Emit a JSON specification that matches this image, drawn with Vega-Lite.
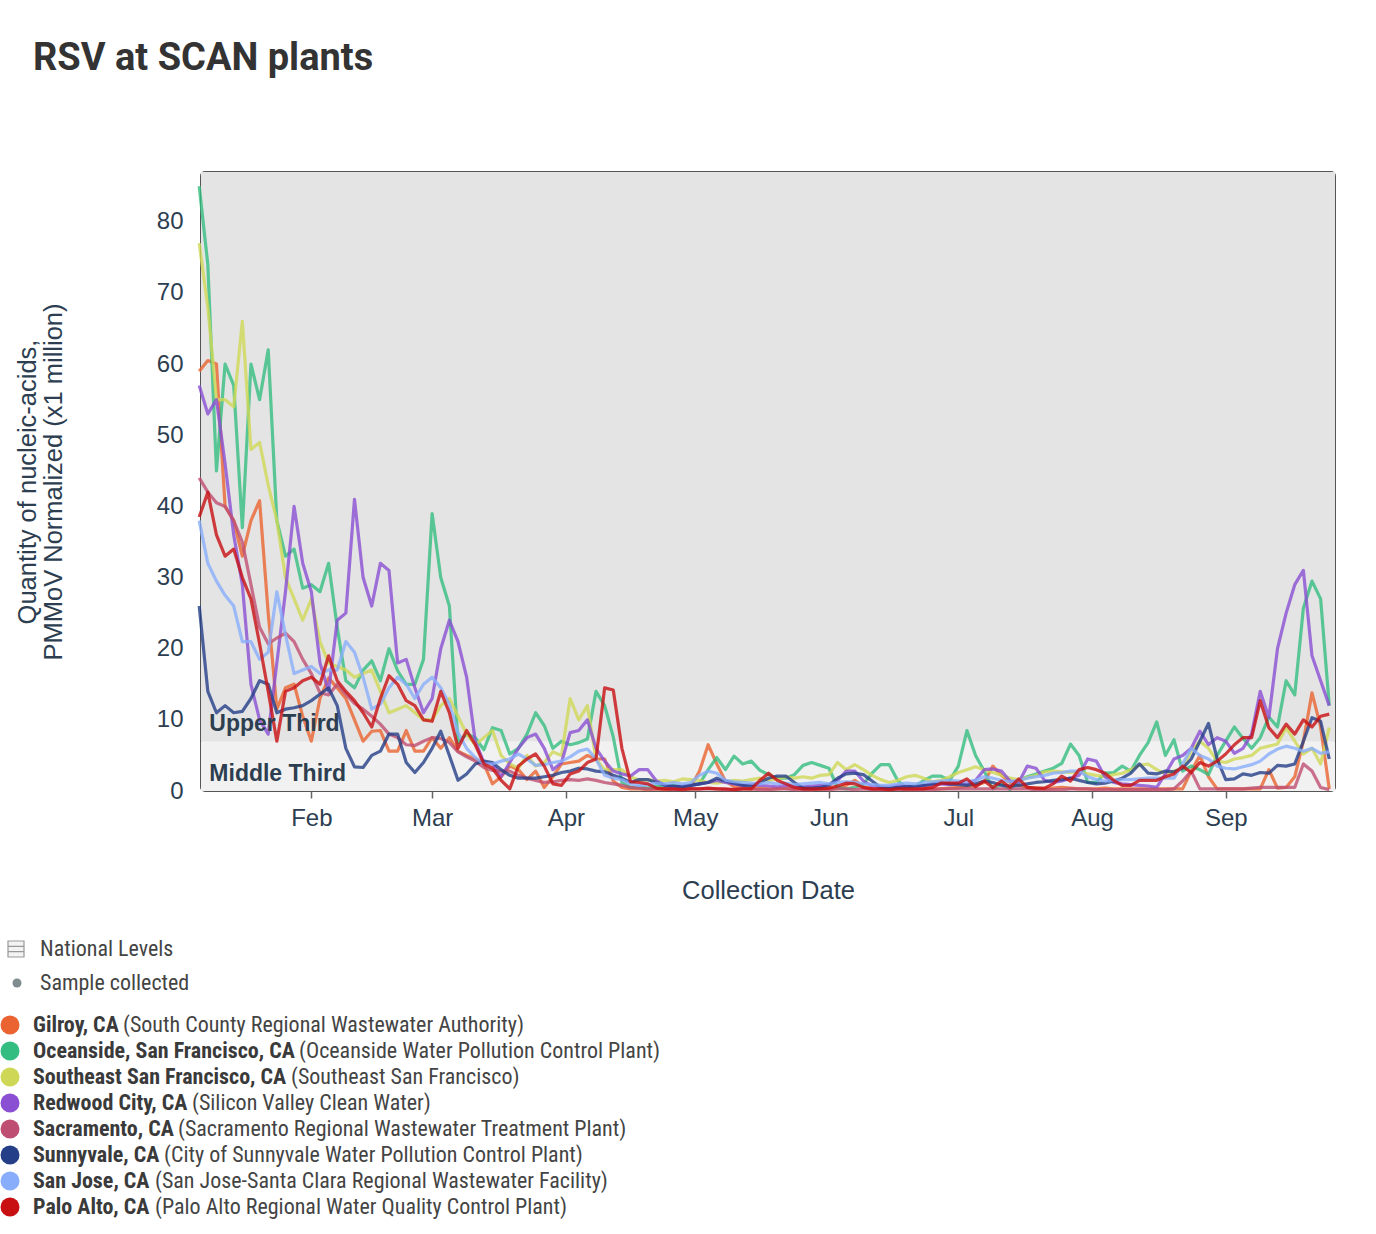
{
  "$schema": "https://vega.github.io/schema/vega-lite/v6.json",
  "background": "#ffffff",
  "padding": {"left": 0, "top": 40, "right": 0, "bottom": 0},
  "title": {"text": "RSV at SCAN plants", "anchor": "start", "frame": "group", "dx": -168, "offset": 93, "font": "Roboto", "fontSize": 38, "fontWeight": "bold", "color": "#333333"},
  "config": {"view": {"stroke": null}, "font": "Liberation Sans"},
  "bounds": "flush",
  "spacing": 141,
  "vconcat": [
    {
      "width": 1134,
      "height": 619,
      "view": {"stroke": "#555555", "strokeWidth": 2, "cornerRadius": 4, "fill": "#e4e4e4"},
      "layer": [
        {
          "data": {"values": [{"band": "Upper Third", "lo": 7, "hi": 87}, {"band": "Middle Third", "lo": 0, "hi": 7}]},
          "mark": {"type": "rect"},
          "encoding": {
            "y": {"field": "lo", "type": "quantitative", "scale": {"domain": [0, 87], "nice": false},
              "axis": {"values": [0, 10, 20, 30, 40, 50, 60, 70, 80], "ticks": false, "domain": false, "grid": false, "labelFontSize": 24, "labelColor": "#2c3e50", "labelPadding": 18, "labelFont": "Liberation Sans",
                "title": ["Quantity of nucleic-acids,", "PMMoV Normalized (x1 million)"], "titleFontSize": 25.5, "titleFontWeight": "normal", "titleColor": "#2c3e50", "titleFont": "Liberation Sans", "titlePadding": 90, "titleLineHeight": 26}},
            "y2": {"field": "hi"},
            "fill": {"field": "band", "type": "nominal", "scale": {"domain": ["Upper Third", "Middle Third"], "range": ["#e4e4e4", "#f1f1f1"]}, "legend": null}
          }
        },
        {
          "mark": {"type": "rule", "strokeWidth": 9, "strokeDash": [1.5, 2.8], "color": "#8a8a8a"},
          "encoding": {"y": {"datum": 0.75}}
        },
        {
          "mark": {"type": "rule", "strokeWidth": 1.2, "color": "#34495e"},
          "encoding": {"y": {"datum": 7}}
        },
        {
          "data": {"format": {"parse": {"d": "date:'%Y-%m-%d'"}}, "values": [
{"d":"2023-01-06","Gilroy":59,"Oceanside":85,"Southeast":77,"Redwood":57,"Sacramento":44,"Sunnyvale":26,"SanJose":38,"PaloAlto":38.5},
{"d":"2023-01-08","Gilroy":60.5,"Oceanside":74,"Southeast":68,"Redwood":53,"Sacramento":42,"Sunnyvale":14,"SanJose":32,"PaloAlto":42},
{"d":"2023-01-10","Gilroy":60,"Oceanside":45,"Southeast":55,"Redwood":55,"Sacramento":40.5,"Sunnyvale":11,"SanJose":29.5,"PaloAlto":36},
{"d":"2023-01-12","Gilroy":40,"Oceanside":60,"Southeast":55,"Redwood":46,"Sacramento":40,"Sunnyvale":12,"SanJose":27.5,"PaloAlto":33},
{"d":"2023-01-14","Gilroy":38,"Oceanside":57,"Southeast":54,"Redwood":36,"Sacramento":38,"Sunnyvale":11,"SanJose":26,"PaloAlto":34},
{"d":"2023-01-16","Gilroy":33,"Oceanside":37,"Southeast":66,"Redwood":29,"Sacramento":35,"Sunnyvale":11.2,"SanJose":21,"PaloAlto":30},
{"d":"2023-01-18","Gilroy":38,"Oceanside":60,"Southeast":48,"Redwood":15,"Sacramento":29,"Sunnyvale":13,"SanJose":21,"PaloAlto":27},
{"d":"2023-01-20","Gilroy":40.8,"Oceanside":55,"Southeast":49,"Redwood":10,"Sacramento":23,"Sunnyvale":15.5,"SanJose":18.5,"PaloAlto":20.7},
{"d":"2023-01-22","Gilroy":25,"Oceanside":62,"Southeast":43,"Redwood":8,"Sacramento":20.7,"Sunnyvale":15,"SanJose":19.5,"PaloAlto":14},
{"d":"2023-01-24","Gilroy":11.5,"Oceanside":38,"Southeast":38,"Redwood":18,"Sacramento":21.5,"Sunnyvale":11,"SanJose":28,"PaloAlto":7},
{"d":"2023-01-26","Gilroy":14.5,"Oceanside":33,"Southeast":30,"Redwood":28,"Sacramento":22.2,"Sunnyvale":11.5,"SanJose":22,"PaloAlto":14},
{"d":"2023-01-28","Gilroy":15,"Oceanside":34,"Southeast":27,"Redwood":40,"Sacramento":21,"Sunnyvale":11.7,"SanJose":16.5,"PaloAlto":14.5},
{"d":"2023-01-30","Gilroy":10.5,"Oceanside":28.5,"Southeast":24,"Redwood":32,"Sacramento":18.5,"Sunnyvale":12,"SanJose":17,"PaloAlto":15.5},
{"d":"2023-02-01","Gilroy":7,"Oceanside":29,"Southeast":27,"Redwood":28,"Sacramento":16.5,"Sunnyvale":12.7,"SanJose":17.5,"PaloAlto":16},
{"d":"2023-02-03","Gilroy":13,"Oceanside":28,"Southeast":21,"Redwood":18,"Sacramento":13.8,"Sunnyvale":13.6,"SanJose":16.5,"PaloAlto":15},
{"d":"2023-02-05","Gilroy":15.9,"Oceanside":32,"Southeast":18,"Redwood":14,"Sacramento":13.5,"Sunnyvale":14.5,"SanJose":17,"PaloAlto":19},
{"d":"2023-02-07","Gilroy":14.5,"Oceanside":23,"Southeast":17.5,"Redwood":24,"Sacramento":15,"Sunnyvale":12,"SanJose":17,"PaloAlto":15.5},
{"d":"2023-02-09","Gilroy":13,"Oceanside":15.5,"Southeast":17,"Redwood":25,"Sacramento":13.6,"Sunnyvale":6,"SanJose":21,"PaloAlto":14},
{"d":"2023-02-11","Gilroy":10,"Oceanside":14.5,"Southeast":16,"Redwood":41,"Sacramento":12.3,"Sunnyvale":3.4,"SanJose":19.5,"PaloAlto":12.7},
{"d":"2023-02-13","Gilroy":7,"Oceanside":17,"Southeast":16.5,"Redwood":30,"Sacramento":11.5,"Sunnyvale":3.3,"SanJose":16,"PaloAlto":11},
{"d":"2023-02-15","Gilroy":8.4,"Oceanside":18.3,"Southeast":17,"Redwood":26,"Sacramento":10.5,"Sunnyvale":5,"SanJose":11.5,"PaloAlto":9},
{"d":"2023-02-17","Gilroy":8.5,"Oceanside":15.5,"Southeast":14,"Redwood":32,"Sacramento":9.4,"Sunnyvale":5.6,"SanJose":12.2,"PaloAlto":13},
{"d":"2023-02-19","Gilroy":5.6,"Oceanside":20,"Southeast":11,"Redwood":31,"Sacramento":8,"Sunnyvale":8,"SanJose":14.5,"PaloAlto":16.2},
{"d":"2023-02-21","Gilroy":5.6,"Oceanside":16.9,"Southeast":11.5,"Redwood":18,"Sacramento":7.5,"Sunnyvale":8,"SanJose":16,"PaloAlto":15},
{"d":"2023-02-23","Gilroy":8.5,"Oceanside":15,"Southeast":12,"Redwood":18.5,"Sacramento":6.5,"Sunnyvale":4,"SanJose":15,"PaloAlto":12.7},
{"d":"2023-02-25","Gilroy":5.6,"Oceanside":15,"Southeast":11,"Redwood":14.5,"Sacramento":6.4,"Sunnyvale":2.6,"SanJose":13,"PaloAlto":12},
{"d":"2023-02-27","Gilroy":5.6,"Oceanside":18.5,"Southeast":10,"Redwood":11,"Sacramento":7,"Sunnyvale":4,"SanJose":15,"PaloAlto":10},
{"d":"2023-03-01","Gilroy":7.5,"Oceanside":39,"Southeast":10,"Redwood":13,"Sacramento":7.5,"Sunnyvale":6,"SanJose":16,"PaloAlto":9.8},
{"d":"2023-03-03","Gilroy":6,"Oceanside":30,"Southeast":12,"Redwood":20,"Sacramento":7.4,"Sunnyvale":8.4,"SanJose":14.5,"PaloAlto":14},
{"d":"2023-03-05","Gilroy":7.5,"Oceanside":26,"Southeast":13,"Redwood":24,"Sacramento":6.8,"Sunnyvale":5,"SanJose":12.2,"PaloAlto":11},
{"d":"2023-03-07","Gilroy":5.6,"Oceanside":6.8,"Southeast":10.5,"Redwood":21,"Sacramento":5.5,"Sunnyvale":1.5,"SanJose":8.2,"PaloAlto":6},
{"d":"2023-03-09","Gilroy":5,"Oceanside":8,"Southeast":8,"Redwood":16,"Sacramento":4.8,"Sunnyvale":2.4,"SanJose":6,"PaloAlto":8.5},
{"d":"2023-03-11","Gilroy":4.5,"Oceanside":7.5,"Southeast":6.5,"Redwood":7,"Sacramento":4.2,"Sunnyvale":3.8,"SanJose":4.7,"PaloAlto":6.5},
{"d":"2023-03-13","Gilroy":3.8,"Oceanside":5.8,"Southeast":7.5,"Redwood":4,"Sacramento":3.3,"Sunnyvale":4.2,"SanJose":3.8,"PaloAlto":3.8},
{"d":"2023-03-15","Gilroy":1,"Oceanside":8.9,"Southeast":8.5,"Redwood":3.8,"Sacramento":2.9,"Sunnyvale":4,"SanJose":3.8,"PaloAlto":3.2},
{"d":"2023-03-17","Gilroy":2,"Oceanside":8.5,"Southeast":5,"Redwood":2,"Sacramento":2.8,"Sunnyvale":3,"SanJose":4.2,"PaloAlto":1.5},
{"d":"2023-03-19","Gilroy":3.5,"Oceanside":5.2,"Southeast":3.8,"Redwood":4,"Sacramento":2.8,"Sunnyvale":2.2,"SanJose":4.5,"PaloAlto":0.3},
{"d":"2023-03-21","Gilroy":3,"Oceanside":6,"Southeast":3.2,"Redwood":6,"Sacramento":2.2,"Sunnyvale":1.8,"SanJose":5.2,"PaloAlto":3.5},
{"d":"2023-03-23","Gilroy":1.6,"Oceanside":8,"Southeast":5,"Redwood":7.5,"Sacramento":1.8,"Sunnyvale":1.8,"SanJose":4.5,"PaloAlto":4.5},
{"d":"2023-03-25","Gilroy":2.8,"Oceanside":11,"Southeast":3.5,"Redwood":8,"Sacramento":1.5,"Sunnyvale":1.8,"SanJose":3.6,"PaloAlto":5.2},
{"d":"2023-03-27","Gilroy":0.5,"Oceanside":9.2,"Southeast":4,"Redwood":6,"Sacramento":1.2,"Sunnyvale":2,"SanJose":3.7,"PaloAlto":3.5},
{"d":"2023-03-29","Gilroy":2,"Oceanside":6,"Southeast":5.5,"Redwood":3,"Sacramento":1.3,"Sunnyvale":2.2,"SanJose":4,"PaloAlto":1},
{"d":"2023-03-31","Gilroy":3.8,"Oceanside":7,"Southeast":5,"Redwood":4,"Sacramento":1.5,"Sunnyvale":2.6,"SanJose":4.2,"PaloAlto":0.8},
{"d":"2023-04-02","Gilroy":4,"Oceanside":6.5,"Southeast":13,"Redwood":8.2,"Sacramento":1.6,"Sunnyvale":2.8,"SanJose":4.8,"PaloAlto":2.4},
{"d":"2023-04-04","Gilroy":4.2,"Oceanside":6.8,"Southeast":10,"Redwood":8.5,"Sacramento":1.5,"Sunnyvale":3.2,"SanJose":5.6,"PaloAlto":2.8},
{"d":"2023-04-06","Gilroy":5,"Oceanside":7.3,"Southeast":12,"Redwood":10,"Sacramento":1.7,"Sunnyvale":3.1,"SanJose":5.9,"PaloAlto":4},
{"d":"2023-04-08","Gilroy":4.5,"Oceanside":14,"Southeast":4.5,"Redwood":6,"Sacramento":1.5,"Sunnyvale":2.8,"SanJose":4.5,"PaloAlto":4.5},
{"d":"2023-04-10","Gilroy":4.5,"Oceanside":12,"Southeast":3,"Redwood":4.2,"Sacramento":1.2,"Sunnyvale":2.7,"SanJose":2.2,"PaloAlto":14.5},
{"d":"2023-04-12","Gilroy":1.4,"Oceanside":7.6,"Southeast":3,"Redwood":2.8,"Sacramento":1,"Sunnyvale":2.2,"SanJose":1.8,"PaloAlto":14.2},
{"d":"2023-04-14","Gilroy":0.5,"Oceanside":1.2,"Southeast":3,"Redwood":2.4,"Sacramento":0.8,"Sunnyvale":1.8,"SanJose":1.6,"PaloAlto":6},
{"d":"2023-04-16","Gilroy":0.3,"Oceanside":0.5,"Southeast":2,"Redwood":2.1,"Sacramento":0.5,"Sunnyvale":1.2,"SanJose":1,"PaloAlto":1.3},
{"d":"2023-04-18","Gilroy":0.3,"Oceanside":0.6,"Southeast":1.5,"Redwood":3,"Sacramento":0.4,"Sunnyvale":1.6,"SanJose":0.8,"PaloAlto":1.2},
{"d":"2023-04-20","Gilroy":0.2,"Oceanside":0.4,"Southeast":1.6,"Redwood":3,"Sacramento":0.3,"Sunnyvale":1.6,"SanJose":0.9,"PaloAlto":1},
{"d":"2023-04-22","Gilroy":0.3,"Oceanside":0.7,"Southeast":1.4,"Redwood":1.4,"Sacramento":0.3,"Sunnyvale":1.2,"SanJose":1.1,"PaloAlto":0.4},
{"d":"2023-04-24","Gilroy":0.2,"Oceanside":0.5,"Southeast":1.5,"Redwood":0.8,"Sacramento":0.3,"Sunnyvale":0.8,"SanJose":1,"PaloAlto":0.3},
{"d":"2023-04-26","Gilroy":0.3,"Oceanside":0.8,"Southeast":1.3,"Redwood":0.6,"Sacramento":0.2,"Sunnyvale":0.7,"SanJose":1.2,"PaloAlto":0.3},
{"d":"2023-04-28","Gilroy":0.4,"Oceanside":0.6,"Southeast":1.7,"Redwood":0.7,"Sacramento":0.3,"Sunnyvale":0.6,"SanJose":1,"PaloAlto":0.2},
{"d":"2023-04-30","Gilroy":0.6,"Oceanside":0.9,"Southeast":1.6,"Redwood":0.8,"Sacramento":0.3,"Sunnyvale":0.8,"SanJose":1.2,"PaloAlto":0.3},
{"d":"2023-05-02","Gilroy":2.8,"Oceanside":1,"Southeast":1.5,"Redwood":1,"Sacramento":0.3,"Sunnyvale":1,"SanJose":2.2,"PaloAlto":0.3},
{"d":"2023-05-04","Gilroy":6.5,"Oceanside":3,"Southeast":1.2,"Redwood":1.2,"Sacramento":0.3,"Sunnyvale":1.2,"SanJose":2.8,"PaloAlto":0.4},
{"d":"2023-05-06","Gilroy":3.8,"Oceanside":4.7,"Southeast":1.1,"Redwood":1.5,"Sacramento":0.3,"Sunnyvale":1.8,"SanJose":2.5,"PaloAlto":0.3},
{"d":"2023-05-08","Gilroy":1.4,"Oceanside":3,"Southeast":1.3,"Redwood":1.2,"Sacramento":0.2,"Sunnyvale":1.4,"SanJose":1.5,"PaloAlto":0.3},
{"d":"2023-05-10","Gilroy":0.6,"Oceanside":4.9,"Southeast":1.5,"Redwood":1,"Sacramento":0.2,"Sunnyvale":1.1,"SanJose":1.3,"PaloAlto":0.2},
{"d":"2023-05-12","Gilroy":0.4,"Oceanside":3.8,"Southeast":1.4,"Redwood":0.8,"Sacramento":0.3,"Sunnyvale":0.8,"SanJose":1.2,"PaloAlto":0.3},
{"d":"2023-05-14","Gilroy":0.3,"Oceanside":4.2,"Southeast":1.6,"Redwood":0.9,"Sacramento":0.3,"Sunnyvale":0.7,"SanJose":1.1,"PaloAlto":0.3},
{"d":"2023-05-16","Gilroy":0.4,"Oceanside":2.9,"Southeast":1.8,"Redwood":0.8,"Sacramento":0.2,"Sunnyvale":1.2,"SanJose":1,"PaloAlto":1.5},
{"d":"2023-05-18","Gilroy":0.3,"Oceanside":2.3,"Southeast":1.5,"Redwood":0.7,"Sacramento":0.2,"Sunnyvale":1.8,"SanJose":1.2,"PaloAlto":2.5},
{"d":"2023-05-20","Gilroy":0.3,"Oceanside":1.8,"Southeast":1.7,"Redwood":0.6,"Sacramento":0.3,"Sunnyvale":2.1,"SanJose":1,"PaloAlto":1.5},
{"d":"2023-05-22","Gilroy":0.4,"Oceanside":1.8,"Southeast":2,"Redwood":0.8,"Sacramento":0.3,"Sunnyvale":2.1,"SanJose":1.1,"PaloAlto":1},
{"d":"2023-05-24","Gilroy":0.3,"Oceanside":2.3,"Southeast":1.8,"Redwood":0.7,"Sacramento":0.2,"Sunnyvale":1.2,"SanJose":0.9,"PaloAlto":0.5},
{"d":"2023-05-26","Gilroy":0.3,"Oceanside":3.6,"Southeast":2,"Redwood":0.6,"Sacramento":0.2,"Sunnyvale":0.4,"SanJose":1,"PaloAlto":0.3},
{"d":"2023-05-28","Gilroy":0.2,"Oceanside":4,"Southeast":1.8,"Redwood":0.7,"Sacramento":0.2,"Sunnyvale":0.4,"SanJose":1.1,"PaloAlto":0.3},
{"d":"2023-05-30","Gilroy":0.3,"Oceanside":3.6,"Southeast":2.2,"Redwood":0.8,"Sacramento":0.3,"Sunnyvale":0.5,"SanJose":1.2,"PaloAlto":0.3},
{"d":"2023-06-01","Gilroy":0.3,"Oceanside":3.2,"Southeast":2.3,"Redwood":0.9,"Sacramento":0.2,"Sunnyvale":0.8,"SanJose":1,"PaloAlto":0.4},
{"d":"2023-06-03","Gilroy":0.4,"Oceanside":0.5,"Southeast":4,"Redwood":1.5,"Sacramento":0.3,"Sunnyvale":1.8,"SanJose":1.2,"PaloAlto":0.7},
{"d":"2023-06-05","Gilroy":0.8,"Oceanside":0.3,"Southeast":3,"Redwood":2.8,"Sacramento":0.3,"Sunnyvale":2.4,"SanJose":1.3,"PaloAlto":1.1},
{"d":"2023-06-07","Gilroy":1.5,"Oceanside":0.5,"Southeast":3.7,"Redwood":2.8,"Sacramento":0.2,"Sunnyvale":2.5,"SanJose":1.2,"PaloAlto":1},
{"d":"2023-06-09","Gilroy":0.6,"Oceanside":1,"Southeast":3,"Redwood":1.4,"Sacramento":0.3,"Sunnyvale":2.3,"SanJose":1,"PaloAlto":0.5},
{"d":"2023-06-11","Gilroy":0.3,"Oceanside":2.5,"Southeast":2.2,"Redwood":0.7,"Sacramento":0.2,"Sunnyvale":1.4,"SanJose":0.9,"PaloAlto":0.3},
{"d":"2023-06-13","Gilroy":0.3,"Oceanside":3.7,"Southeast":1.6,"Redwood":0.6,"Sacramento":0.2,"Sunnyvale":0.5,"SanJose":0.8,"PaloAlto":0.3},
{"d":"2023-06-15","Gilroy":0.3,"Oceanside":3.7,"Southeast":1.2,"Redwood":0.6,"Sacramento":0.2,"Sunnyvale":0.4,"SanJose":0.8,"PaloAlto":0.2},
{"d":"2023-06-17","Gilroy":0.4,"Oceanside":1.4,"Southeast":1.5,"Redwood":0.8,"Sacramento":0.3,"Sunnyvale":0.5,"SanJose":1,"PaloAlto":0.3},
{"d":"2023-06-19","Gilroy":0.3,"Oceanside":0.5,"Southeast":2,"Redwood":0.7,"Sacramento":0.2,"Sunnyvale":0.6,"SanJose":1.1,"PaloAlto":0.3},
{"d":"2023-06-21","Gilroy":0.3,"Oceanside":0.6,"Southeast":2.2,"Redwood":0.6,"Sacramento":0.2,"Sunnyvale":0.7,"SanJose":1,"PaloAlto":0.3},
{"d":"2023-06-23","Gilroy":0.4,"Oceanside":1.5,"Southeast":1.8,"Redwood":0.8,"Sacramento":0.2,"Sunnyvale":0.8,"SanJose":1.2,"PaloAlto":0.3},
{"d":"2023-06-25","Gilroy":0.3,"Oceanside":2.1,"Southeast":1.3,"Redwood":0.9,"Sacramento":0.2,"Sunnyvale":1,"SanJose":1.3,"PaloAlto":0.5},
{"d":"2023-06-27","Gilroy":0.3,"Oceanside":2.1,"Southeast":1.5,"Redwood":1,"Sacramento":0.3,"Sunnyvale":1.2,"SanJose":1.4,"PaloAlto":1.1},
{"d":"2023-06-29","Gilroy":0.4,"Oceanside":1.5,"Southeast":2,"Redwood":0.9,"Sacramento":0.3,"Sunnyvale":1,"SanJose":1.5,"PaloAlto":1.1},
{"d":"2023-07-01","Gilroy":0.5,"Oceanside":3.5,"Southeast":2.6,"Redwood":1.1,"Sacramento":0.3,"Sunnyvale":0.9,"SanJose":1.4,"PaloAlto":1.1},
{"d":"2023-07-03","Gilroy":0.6,"Oceanside":8.5,"Southeast":3,"Redwood":1,"Sacramento":0.3,"Sunnyvale":0.8,"SanJose":1.3,"PaloAlto":1.7},
{"d":"2023-07-05","Gilroy":0.8,"Oceanside":5,"Southeast":3.4,"Redwood":1.5,"Sacramento":0.3,"Sunnyvale":1,"SanJose":1.5,"PaloAlto":0.6},
{"d":"2023-07-07","Gilroy":1.2,"Oceanside":2.8,"Southeast":3,"Redwood":3,"Sacramento":0.3,"Sunnyvale":1.4,"SanJose":2,"PaloAlto":1.4},
{"d":"2023-07-09","Gilroy":3.5,"Oceanside":0.3,"Southeast":2.6,"Redwood":3.1,"Sacramento":0.3,"Sunnyvale":1.2,"SanJose":1.8,"PaloAlto":0.5},
{"d":"2023-07-11","Gilroy":2.2,"Oceanside":1,"Southeast":2.2,"Redwood":2.8,"Sacramento":0.3,"Sunnyvale":0.8,"SanJose":1.5,"PaloAlto":1.4},
{"d":"2023-07-13","Gilroy":1.2,"Oceanside":0.2,"Southeast":1.8,"Redwood":1.4,"Sacramento":0.3,"Sunnyvale":0.7,"SanJose":1.3,"PaloAlto":0.5},
{"d":"2023-07-15","Gilroy":0.8,"Oceanside":1.4,"Southeast":1.6,"Redwood":1.2,"Sacramento":0.3,"Sunnyvale":0.8,"SanJose":1.5,"PaloAlto":1.7},
{"d":"2023-07-17","Gilroy":0.5,"Oceanside":2,"Southeast":1.9,"Redwood":3.5,"Sacramento":0.3,"Sunnyvale":1,"SanJose":1.8,"PaloAlto":0.5},
{"d":"2023-07-19","Gilroy":0.4,"Oceanside":2.4,"Southeast":2.2,"Redwood":3.2,"Sacramento":0.2,"Sunnyvale":1.2,"SanJose":2,"PaloAlto":0.4},
{"d":"2023-07-21","Gilroy":0.3,"Oceanside":2.8,"Southeast":2.7,"Redwood":1.5,"Sacramento":0.2,"Sunnyvale":1.3,"SanJose":2.2,"PaloAlto":0.4},
{"d":"2023-07-23","Gilroy":0.4,"Oceanside":3.2,"Southeast":2.8,"Redwood":1.2,"Sacramento":0.2,"Sunnyvale":1.5,"SanJose":2.5,"PaloAlto":1},
{"d":"2023-07-25","Gilroy":0.5,"Oceanside":3.9,"Southeast":2.7,"Redwood":1.4,"Sacramento":0.2,"Sunnyvale":1.6,"SanJose":2.6,"PaloAlto":2.1},
{"d":"2023-07-27","Gilroy":0.4,"Oceanside":6.6,"Southeast":2.6,"Redwood":1.8,"Sacramento":0.3,"Sunnyvale":1.8,"SanJose":2.8,"PaloAlto":1.4},
{"d":"2023-07-29","Gilroy":0.3,"Oceanside":5,"Southeast":2.7,"Redwood":2.2,"Sacramento":0.3,"Sunnyvale":1.5,"SanJose":2.8,"PaloAlto":3},
{"d":"2023-07-31","Gilroy":0.3,"Oceanside":1.2,"Southeast":2.4,"Redwood":4.5,"Sacramento":0.3,"Sunnyvale":1.2,"SanJose":2,"PaloAlto":3.3},
{"d":"2023-08-02","Gilroy":0.3,"Oceanside":1.2,"Southeast":2.2,"Redwood":4.2,"Sacramento":0.2,"Sunnyvale":1,"SanJose":1.6,"PaloAlto":3},
{"d":"2023-08-04","Gilroy":0.4,"Oceanside":2.5,"Southeast":2,"Redwood":2,"Sacramento":0.2,"Sunnyvale":1.1,"SanJose":1.4,"PaloAlto":2.5},
{"d":"2023-08-06","Gilroy":0.3,"Oceanside":2.6,"Southeast":2.3,"Redwood":1.2,"Sacramento":0.2,"Sunnyvale":1.4,"SanJose":1.5,"PaloAlto":1.5},
{"d":"2023-08-08","Gilroy":0.3,"Oceanside":3.5,"Southeast":2.5,"Redwood":1,"Sacramento":0.2,"Sunnyvale":1.8,"SanJose":1.6,"PaloAlto":0.8},
{"d":"2023-08-10","Gilroy":0.3,"Oceanside":2.8,"Southeast":3,"Redwood":0.9,"Sacramento":0.2,"Sunnyvale":2.5,"SanJose":1.6,"PaloAlto":0.8},
{"d":"2023-08-12","Gilroy":0.3,"Oceanside":5,"Southeast":3.6,"Redwood":0.8,"Sacramento":0.2,"Sunnyvale":3.8,"SanJose":1.7,"PaloAlto":1.5},
{"d":"2023-08-14","Gilroy":0.3,"Oceanside":6.8,"Southeast":3.8,"Redwood":0.7,"Sacramento":0.2,"Sunnyvale":2.5,"SanJose":1.8,"PaloAlto":1.5},
{"d":"2023-08-16","Gilroy":0.3,"Oceanside":9.7,"Southeast":3,"Redwood":0.5,"Sacramento":0.2,"Sunnyvale":2.4,"SanJose":1.8,"PaloAlto":1.5},
{"d":"2023-08-18","Gilroy":0.3,"Oceanside":5,"Southeast":2.4,"Redwood":2.4,"Sacramento":0.2,"Sunnyvale":2.8,"SanJose":1.8,"PaloAlto":2},
{"d":"2023-08-20","Gilroy":0.3,"Oceanside":7.2,"Southeast":2.8,"Redwood":4.5,"Sacramento":0.3,"Sunnyvale":2.7,"SanJose":1.8,"PaloAlto":2.4},
{"d":"2023-08-22","Gilroy":0.3,"Oceanside":2.8,"Southeast":3.2,"Redwood":5,"Sacramento":1.4,"Sunnyvale":3.2,"SanJose":3.8,"PaloAlto":3.5},
{"d":"2023-08-24","Gilroy":2.8,"Oceanside":3.5,"Southeast":5.6,"Redwood":6,"Sacramento":2.8,"Sunnyvale":4.5,"SanJose":6,"PaloAlto":2.6},
{"d":"2023-08-26","Gilroy":5,"Oceanside":3,"Southeast":7,"Redwood":8.4,"Sacramento":0.3,"Sunnyvale":7,"SanJose":5,"PaloAlto":4},
{"d":"2023-08-28","Gilroy":2,"Oceanside":2.3,"Southeast":6,"Redwood":6.5,"Sacramento":0.3,"Sunnyvale":9.5,"SanJose":4.5,"PaloAlto":3.5},
{"d":"2023-08-30","Gilroy":0.3,"Oceanside":5,"Southeast":4.2,"Redwood":7.5,"Sacramento":0.3,"Sunnyvale":4.5,"SanJose":3.5,"PaloAlto":4.2},
{"d":"2023-09-01","Gilroy":0.3,"Oceanside":7,"Southeast":4,"Redwood":7,"Sacramento":0.3,"Sunnyvale":1.6,"SanJose":3.2,"PaloAlto":5.2},
{"d":"2023-09-03","Gilroy":0.3,"Oceanside":9,"Southeast":4.5,"Redwood":5.3,"Sacramento":0.3,"Sunnyvale":1.7,"SanJose":3.1,"PaloAlto":6.5},
{"d":"2023-09-05","Gilroy":0.3,"Oceanside":7.4,"Southeast":4.7,"Redwood":6,"Sacramento":0.3,"Sunnyvale":2.4,"SanJose":3.4,"PaloAlto":7.5},
{"d":"2023-09-07","Gilroy":0.3,"Oceanside":6,"Southeast":5,"Redwood":8,"Sacramento":0.4,"Sunnyvale":2.2,"SanJose":3.7,"PaloAlto":7.5},
{"d":"2023-09-09","Gilroy":0.3,"Oceanside":7.5,"Southeast":6,"Redwood":14,"Sacramento":0.5,"Sunnyvale":2.6,"SanJose":4.2,"PaloAlto":12.7},
{"d":"2023-09-11","Gilroy":3,"Oceanside":10.4,"Southeast":6.3,"Redwood":10.3,"Sacramento":0.5,"Sunnyvale":2.5,"SanJose":5.2,"PaloAlto":8.9},
{"d":"2023-09-13","Gilroy":0.4,"Oceanside":9,"Southeast":6.6,"Redwood":20,"Sacramento":0.5,"Sunnyvale":3.6,"SanJose":5.9,"PaloAlto":7.5},
{"d":"2023-09-15","Gilroy":0.5,"Oceanside":15.5,"Southeast":8.9,"Redwood":25,"Sacramento":0.5,"Sunnyvale":3.5,"SanJose":6.3,"PaloAlto":9.4},
{"d":"2023-09-17","Gilroy":2,"Oceanside":13.5,"Southeast":7,"Redwood":29,"Sacramento":0.5,"Sunnyvale":3.8,"SanJose":6,"PaloAlto":8},
{"d":"2023-09-19","Gilroy":7,"Oceanside":25.7,"Southeast":5.2,"Redwood":31,"Sacramento":3.8,"Sunnyvale":7,"SanJose":5.6,"PaloAlto":10},
{"d":"2023-09-21","Gilroy":13.8,"Oceanside":29.5,"Southeast":6,"Redwood":19,"Sacramento":2.8,"Sunnyvale":10.3,"SanJose":6,"PaloAlto":9},
{"d":"2023-09-23","Gilroy":9,"Oceanside":27,"Southeast":3.8,"Redwood":15.5,"Sacramento":0.5,"Sunnyvale":9.8,"SanJose":5.3,"PaloAlto":10.5},
{"d":"2023-09-25","Gilroy":0.3,"Oceanside":12,"Southeast":8.9,"Redwood":12,"Sacramento":0.2,"Sunnyvale":4.5,"SanJose":5.5,"PaloAlto":10.8}
          ]},
          "transform": [{"fold": ["Gilroy", "Oceanside", "Southeast", "Redwood", "Sacramento", "Sunnyvale", "SanJose", "PaloAlto"], "as": ["plant", "value"]}],
          "mark": {"type": "line", "strokeWidth": 3.2, "opacity": 0.8, "strokeJoin": "round"},
          "encoding": {
            "x": {"field": "d", "type": "temporal",
              "scale": {"domain": [{"year": 2023, "month": 1, "date": 6, "hours": 10}, {"year": 2023, "month": 9, "date": 26, "hours": 8}]},
              "axis": {"title": "Collection Date", "format": "%b", "tickCount": {"interval": "month", "step": 1}, "grid": false, "domain": false,
                "tickSize": 7, "tickColor": "#666666", "tickWidth": 1.5, "labelFontSize": 24, "labelColor": "#2c3e50", "labelFont": "Liberation Sans", "labelPadding": 8,
                "titleFontSize": 25.5, "titleFontWeight": "normal", "titleColor": "#2c3e50", "titleFont": "Liberation Sans", "titlePadding": 48}},
            "y": {"field": "value", "type": "quantitative"},
            "color": {"field": "plant", "type": "nominal", "scale": {"domain": ["Gilroy", "Oceanside", "Southeast", "Redwood", "Sacramento", "Sunnyvale", "SanJose", "PaloAlto"], "range": ["#ea6330", "#34bd80", "#cfd856", "#8a4fd3", "#bf4f72", "#243f88", "#88aefb", "#c80f12"]}, "legend": null}
          }
        },
        {
          "data": {"values": [{"band": "Upper Third", "lo": 7}, {"band": "Middle Third", "lo": 0}]},
          "mark": {"type": "text", "align": "left", "baseline": "alphabetic", "dx": 1.5, "dy": -10, "font": "Liberation Sans", "fontSize": 23, "fontWeight": "bold", "color": "#2c3e50"},
          "encoding": {
            "x": {"datum": {"year": 2023, "month": 1, "date": 8}, "type": "temporal"},
            "y": {"field": "lo", "type": "quantitative"},
            "text": {"field": "band"}
          }
        }
      ]
    },
    {
      "bounds": "flush",
      "spacing": 12,
      "vconcat": [
        {
          "width": 1134,
          "height": 68,
          "data": {"values": [{"label": "National Levels", "kind": "levels"}, {"label": "Sample collected", "kind": "sample"}]},
          "encoding": {"y": {"field": "label", "type": "nominal", "sort": null, "scale": {"type": "point", "padding": 0.5, "domain": ["National Levels", "Sample collected"]}, "axis": null}},
          "layer": [
            {
              "transform": [{"filter": "datum.kind == 'levels'"}],
              "mark": {"type": "point", "shape": "M-1,-1H1V1H-1Z M-1,-0.33H1 M-1,0.33H1", "size": 256, "filled": false, "fill": "#f3f3f3", "stroke": "#999999", "strokeWidth": 1.2, "opacity": 1},
              "encoding": {"x": {"value": -185}}
            },
            {
              "transform": [{"filter": "datum.kind == 'sample'"}],
              "mark": {"type": "point", "shape": "circle", "size": 81, "filled": true, "color": "#7f8c8d", "opacity": 1},
              "encoding": {"x": {"value": -184}}
            },
            {
              "mark": {"type": "text", "align": "left", "baseline": "middle", "font": "Liberation Sans Narrow, Roboto Condensed, DejaVu Sans Condensed, sans-serif", "fontSize": 22, "color": "#444444"},
              "encoding": {"x": {"value": -161}, "text": {"field": "label"}}
            }
          ]
        },
        {
          "width": 1134,
          "height": 208,
          "data": {"values": [
            {"name": "Gilroy, CA", "facility": "(South County Regional Wastewater Authority)", "key": "Gilroy"},
            {"name": "Oceanside, San Francisco, CA", "facility": "(Oceanside Water Pollution Control Plant)", "key": "Oceanside"},
            {"name": "Southeast San Francisco, CA", "facility": "(Southeast San Francisco)", "key": "Southeast"},
            {"name": "Redwood City, CA", "facility": "(Silicon Valley Clean Water)", "key": "Redwood"},
            {"name": "Sacramento, CA", "facility": "(Sacramento Regional Wastewater Treatment Plant)", "key": "Sacramento"},
            {"name": "Sunnyvale, CA", "facility": "(City of Sunnyvale Water Pollution Control Plant)", "key": "Sunnyvale"},
            {"name": "San Jose, CA", "facility": "(San Jose-Santa Clara Regional Wastewater Facility)", "key": "SanJose"},
            {"name": "Palo Alto, CA", "facility": "(Palo Alto Regional Water Quality Control Plant)", "key": "PaloAlto"}
          ]},
          "encoding": {"y": {"field": "name", "type": "nominal", "sort": null, "scale": {"type": "point", "padding": 0.5}, "axis": null}},
          "layer": [
            {
              "mark": {"type": "point", "shape": "circle", "size": 361, "filled": true, "opacity": 1},
              "encoding": {
                "x": {"value": -191},
                "color": {"field": "key", "type": "nominal", "scale": {"domain": ["Gilroy", "Oceanside", "Southeast", "Redwood", "Sacramento", "Sunnyvale", "SanJose", "PaloAlto"], "range": ["#ea6330", "#34bd80", "#cfd856", "#8a4fd3", "#bf4f72", "#243f88", "#88aefb", "#c80f12"]}, "legend": null}
              }
            },
            {
              "mark": {"type": "text", "align": "left", "baseline": "middle", "font": "Liberation Sans Narrow, Roboto Condensed, DejaVu Sans Condensed, sans-serif", "fontSize": 22, "fontWeight": "bold", "color": "#3a3a3a"},
              "encoding": {"x": {"value": -168}, "text": {"field": "name"}}
            },
            {
              "mark": {"type": "text", "align": "left", "baseline": "middle", "font": "Liberation Sans Narrow, Roboto Condensed, DejaVu Sans Condensed, sans-serif", "fontSize": 22, "color": "#444444",
                "dx": {"expr": "{'Gilroy, CA': 90, 'Oceanside, San Francisco, CA': 266, 'Southeast San Francisco, CA': 258, 'Redwood City, CA': 159, 'Sacramento, CA': 145, 'Sunnyvale, CA': 131, 'San Jose, CA': 122, 'Palo Alto, CA': 122}[datum.name]"}},
              "encoding": {"x": {"value": -168}, "text": {"field": "facility"}}
            }
          ]
        }
      ]
    }
  ]
}
